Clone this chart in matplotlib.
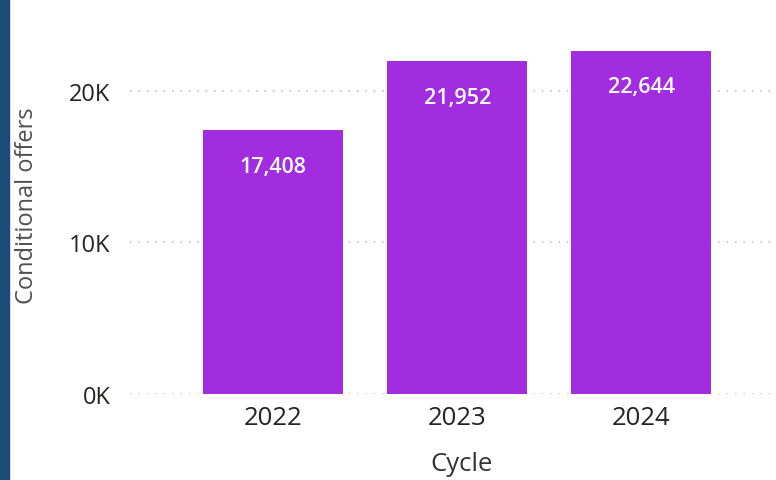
import matplotlib
matplotlib.use("Agg")
import matplotlib.pyplot as plt
from matplotlib.patches import Rectangle
from matplotlib.ticker import FuncFormatter

plt.rcParams['font.family'] = ['Open Sans', 'DejaVu Sans']

cycles = ['2022', '2023', '2024']
offers = [17408, 21952, 22644]
yticks = [0, 10000, 20000]

W, H = 776, 481
fig = plt.figure(figsize=(W / 100, H / 100), dpi=100)

# dark blue strip on the left edge
fig.add_artist(Rectangle((0, 0), 9 / W, 1, transform=fig.transFigure,
                         color='#1B4B78', zorder=0))

# axes: left 130px, right 776px, bottom y=395px, top y=10px
ax = fig.add_axes([130 / W, (H - 395) / H, (W - 130) / W, (395 - 10) / H])

x = range(len(cycles))
ax.bar(x, offers, width=0.76, color='#A12CE0', zorder=2)

for xi, v in zip(x, offers):
    ax.annotate(f'{v:,}', (xi, v), xytext=(0, -26), textcoords='offset points',
                ha='center', va='center', color='white', fontsize=15.5,
                fontweight='semibold')

ax.set_xlim(-0.775, 2.73)
ax.set_ylim(0, 25400)
ax.set_xticks(list(x))
ax.set_xticklabels(cycles)
ax.set_yticks(yticks)
ax.yaxis.set_major_formatter(FuncFormatter(lambda v, p: f'{int(v / 1000)}K'))

ax.grid(axis='y', color='#B8B8B8', linestyle=(0, (1, 4.5)), linewidth=1.1, zorder=1)
ax.set_axisbelow(True)
for s in ax.spines.values():
    s.set_visible(False)
ax.tick_params(length=0)
ax.tick_params(axis='x', labelsize=18.5, colors='#252423', pad=8)
ax.tick_params(axis='y', labelsize=17, colors='#252423', pad=14)

# axis titles placed in pixel positions
fig.text(462 / W, 1 - 465 / H, 'Cycle', fontsize=18.5, color='#333333',
         ha='center', va='center')
fig.text(27 / W, 1 - 206 / H, 'Conditional offers', fontsize=17, color='#505050',
         ha='center', va='center', rotation=90)

fig.savefig('out.png', dpi=100)
